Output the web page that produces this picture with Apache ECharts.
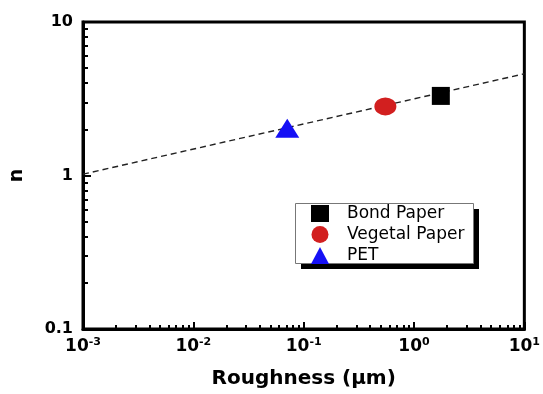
<!DOCTYPE html>
<html>
<head>
<meta charset="utf-8">
<script src="https://cdn.jsdelivr.net/npm/echarts@6/dist/echarts.min.js"></script>
<style>
  html, body { margin: 0; padding: 0; background: #fff; }
  #chart { width: 543px; height: 394px; }
</style>
</head>
<body>
<div id="chart"></div>
<script>
// data
var bondPaper = [[1.75, 3.3]];
var vegetalPaper = [[0.55, 2.82]];
var pet = [[0.071, 2.03]];
var fitLine = [[0.001, 1.02], [10, 4.6]];
var xExponents = { '0.001': '-3', '0.01': '-2', '0.1': '-1', '1': '0', '10': '1' };

var chart = echarts.init(document.getElementById('chart'));

var font = '"DejaVu Sans", Arial, sans-serif';

var option = {
  animation: false,
  grid: {
    left: 80, right: 17, top: 22, bottom: 63,
    show: true, borderColor: '#000', borderWidth: 3
  },
  // legend frame with its drop shadow
  graphic: [
    { type: 'rect', left: 301, top: 209, shape: { width: 178, height: 60 }, style: { fill: '#000' }, z: 1 },
    { type: 'rect', left: 295, top: 203, shape: { width: 178, height: 60 }, style: { fill: '#fff', stroke: '#777', lineWidth: 1 }, z: 2 }
  ],
  legend: {
    orient: 'vertical',
    left: 295, top: 203,
    itemGap: 4,
    itemWidth: 18, itemHeight: 17,
    padding: [2, 10, 1, 16],
    z: 10,
    textStyle: { fontFamily: font, fontSize: 17, color: '#000', padding: [0, 0, 0, 13] },
    data: [
      { name: 'Bond Paper', icon: 'rect' },
      { name: 'Vegetal Paper', icon: 'circle' },
      { name: 'PET', icon: 'triangle' }
    ]
  },
  xAxis: {
    type: 'log', logBase: 10, min: 0.001, max: 10,
    name: 'Roughness (μm)', nameLocation: 'middle', nameGap: 40,
    nameTextStyle: { fontFamily: font, fontSize: 20, fontWeight: 'bold', color: '#000' },
    axisLine: { lineStyle: { color: '#000', width: 3 } },
    axisTick: { inside: true, length: 7, lineStyle: { color: '#000', width: 2 } },
    minorTick: { show: true, splitNumber: 9, length: 4, lineStyle: { color: '#000', width: 2 } },
    splitLine: { show: false },
    axisLabel: {
      margin: 8,
      formatter: function (v) {
        var e = xExponents[String(v)];
        return e === undefined ? '' : '{b|10}{s|' + e + '}';
      },
      rich: {
        b: { fontFamily: font, fontSize: 17, fontWeight: 'bold', color: '#000' },
        s: { fontFamily: font, fontSize: 11, fontWeight: 'bold', color: '#000', verticalAlign: 'top', padding: [0, 0, 9, 0] }
      }
    }
  },
  yAxis: {
    type: 'log', logBase: 10, min: 0.1, max: 10,
    name: 'n', nameLocation: 'middle', nameGap: 56, nameRotate: 90,
    nameTextStyle: { fontFamily: font, fontSize: 19, fontWeight: 'bold', color: '#000' },
    axisLine: { lineStyle: { color: '#000', width: 3 } },
    axisTick: { inside: true, length: 8, lineStyle: { color: '#000', width: 2 } },
    minorTick: { show: true, splitNumber: 9, length: 5, lineStyle: { color: '#000', width: 2 } },
    splitLine: { show: false },
    axisLabel: {
      margin: 10,
      fontFamily: font, fontSize: 16, fontWeight: 'bold', color: '#000'
    }
  },
  series: [
    {
      name: 'fit', type: 'line', data: fitLine, symbol: 'none', silent: true,
      lineStyle: { color: '#222', width: 1.4, type: [6, 4] }, z: 1
    },
    {
      name: 'Bond Paper', type: 'scatter', data: bondPaper,
      symbol: 'rect', symbolSize: 18, itemStyle: { color: '#000', opacity: 1 }, z: 3
    },
    {
      name: 'Vegetal Paper', type: 'scatter', data: vegetalPaper,
      symbol: 'circle', symbolSize: [22, 18], itemStyle: { color: '#d21f1f', opacity: 1 }, z: 3
    },
    {
      name: 'PET', type: 'scatter', data: pet,
      symbol: 'triangle', symbolSize: [24, 19], itemStyle: { color: '#1510f5', opacity: 1 }, z: 3
    }
  ]
};

chart.setOption(option);
</script>
</body>
</html>
